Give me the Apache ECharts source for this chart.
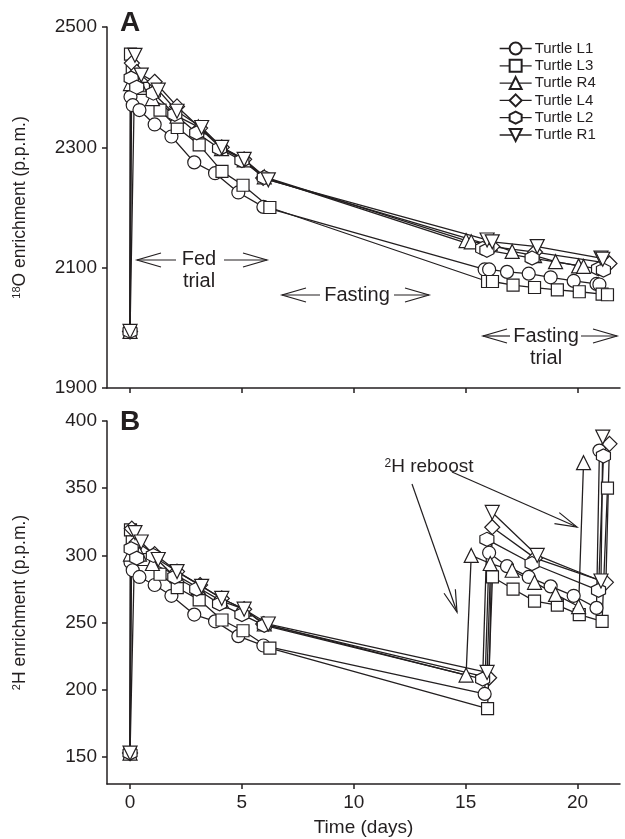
<!DOCTYPE html>
<html lang="en">
<head>
<meta charset="UTF-8">
<title>Turtle isotope enrichment</title>
<script src="https://cdn.jsdelivr.net/npm/echarts@6/dist/echarts.min.js"></script>
<style>
    html, body { margin: 0; padding: 0; background: #fff; }
    #chart { width: 625px; height: 839px; }
</style>
</head>
<body>
<div id="chart"></div>
<script>
// sampling days and values for each turtle (panel A = 18O, panel B = 2H)
var dayL1 = [0, 0.02, 0.12, 0.42, 1.1, 1.85, 2.87, 3.8, 4.84, 5.96, 15.85, 16.05, 16.85, 17.82, 18.8, 19.83, 20.85, 20.98];
var o18L1 = [1994, 2384, 2370, 2362, 2338, 2318, 2275, 2257, 2225, 2201, 2097, 2097, 2093, 2090, 2084, 2078, 2073, 2072];
var h2L1 = [153, 295, 289, 284, 278, 270, 256, 251, 240, 233, 197, 302, 292, 284, 277, 270, 261, 378];

var dayL3 = [0, 0.02, 0.1, 0.6, 1.34, 2.11, 3.09, 4.11, 5.05, 6.25, 15.98, 16.2, 17.12, 18.08, 19.1, 20.08, 21.1, 21.34];
var o18L3 = [1994, 2455, 2426, 2398, 2362, 2333, 2304, 2260, 2237, 2200, 2077, 2077, 2071, 2067, 2063, 2060, 2056, 2055];
var h2L3 = [153, 319, 310, 297, 286, 276, 267, 252, 244, 231, 186, 284, 275, 266, 263, 256, 251, 350];

var dayR4 = [0, 0.02, 0.42, 1.0, 2.1, 3.05, 4.09, 5.1, 6.0, 15.02, 15.25, 16.1, 17.08, 18.08, 19.02, 20.05, 20.27];
var o18R4 = [1994, 2406, 2404, 2381, 2352, 2334, 2298, 2279, 2251, 2145, 2143, 2140, 2127, 2120, 2110, 2103, 2102];
var h2R4 = [153, 301, 301, 294, 285, 276, 266, 260, 249, 211, 300, 294, 289, 280, 271, 262, 369];

var dayL4 = [0, 0.08, 0.3, 1.1, 2.1, 3.13, 4.1, 5.1, 5.95, 16.05, 16.19, 18.1, 21.27, 21.43];
var o18L4 = [1994, 2440, 2425, 2409, 2368, 2332, 2300, 2280, 2249, 2138, 2135, 2126, 2108, 2107];
var h2L4 = [153, 320, 310, 301, 288, 278, 268, 260, 249, 209, 321, 298, 280, 383];

var dayL2 = [0, 0.05, 0.3, 1.04, 2.0, 2.98, 4.0, 5.0, 6.0, 15.76, 15.95, 17.97, 20.94, 21.16];
var o18L2 = [1994, 2415, 2400, 2390, 2355, 2324, 2298, 2278, 2250, 2132, 2129, 2116, 2098, 2096];
var h2L2 = [153, 305, 298, 300, 284, 275, 264, 256, 248, 208, 312, 294, 274, 374];

var dayR1 = [0, 0.22, 0.5, 1.26, 2.1, 3.2, 4.1, 5.1, 6.18, 15.96, 16.19, 18.2, 21.05, 21.13];
var o18R1 = [1994, 2453, 2420, 2395, 2360, 2333, 2300, 2280, 2246, 2146, 2143, 2135, 2116, 2114];
var h2R1 = [153, 317, 310, 297, 288, 277, 268, 260, 249, 213, 332, 300, 281, 388];

var dayTicks = [0, 5, 10, 15, 20];
var o18Ticks = [1900, 2100, 2300, 2500];
var h2Ticks = [150, 200, 250, 300, 350, 400];

var INK = '#231f20';
var FONT = '"Liberation Sans", Arial, Helvetica, sans-serif';
var HEX = 'path://M0,-1 L0.866,-0.5 L0.866,0.5 L0,1 L-0.866,0.5 L-0.866,-0.5 Z';

var turtles = [
    {name: 'Turtle L1', days: dayL1, o18: o18L1, h2: h2L1, symbol: 'circle', size: 13, rotate: 0},
    {name: 'Turtle L3', days: dayL3, o18: o18L3, h2: h2L3, symbol: 'rect', size: 12, rotate: 0},
    {name: 'Turtle R4', days: dayR4, o18: o18R4, h2: h2R4, symbol: 'triangle', size: 14, rotate: 0},
    {name: 'Turtle L4', days: dayL4, o18: o18L4, h2: h2L4, symbol: 'diamond', size: 15, rotate: 0},
    {name: 'Turtle L2', days: dayL2, o18: o18L2, h2: h2L2, symbol: HEX, size: 14, rotate: 0},
    {name: 'Turtle R1', days: dayR1, o18: o18R1, h2: h2R1, symbol: 'triangle', size: 14, rotate: 180}
];

function pairs(days, vals) {
    var out = [];
    for (var i = 0; i < days.length; i++) out.push([days[i], vals[i]]);
    return out;
}

var series = [];
turtles.forEach(function (t) {
    [0, 1].forEach(function (k) {
        series.push({
            name: t.name,
            type: 'line',
            xAxisIndex: k,
            yAxisIndex: k,
            data: pairs(t.days, k === 0 ? t.o18 : t.h2),
            symbol: t.symbol,
            symbolSize: t.size,
            symbolRotate: t.rotate,
            showAllSymbol: true,
            animation: false,
            lineStyle: {color: INK, width: 1.3},
            itemStyle: {color: '#fff', borderColor: INK, borderWidth: 1.2}
        });
    });
});

function plain(v) { return String(v); }

function xAxisCfg(idx, showLabels) {
    return {
        type: 'value', gridIndex: idx, min: -1.03, max: 21.9,
        axisLine: {onZero: false, lineStyle: {color: INK, width: 1.5}},
        axisTick: {customValues: dayTicks, length: 5, lineStyle: {color: INK, width: 1.5}},
        axisLabel: {show: showLabels, customValues: dayTicks, formatter: plain, fontSize: 19, color: INK, fontFamily: FONT, margin: 9},
        splitLine: {show: false},
        name: showLabels ? 'Time (days)' : '',
        nameLocation: 'middle', nameGap: 34,
        nameTextStyle: {fontSize: 19, color: INK, fontFamily: FONT}
    };
}

function yAxisCfg(idx, min, max, ticks, label) {
    return {
        type: 'value', gridIndex: idx, min: min, max: max,
        axisLine: {show: true, onZero: false, lineStyle: {color: INK, width: 1.5}},
        axisTick: {show: true, customValues: ticks, length: 5, lineStyle: {color: INK, width: 1.5}},
        axisLabel: {customValues: ticks, formatter: plain, fontSize: 19, color: INK, fontFamily: FONT, margin: 10},
        splitLine: {show: false},
        name: label, nameLocation: 'middle', nameRotate: 90, nameGap: 78,
        nameTextStyle: {
            fontSize: 17.5, color: INK, fontFamily: FONT,
            rich: {sup: {fontSize: 11, verticalAlign: 'top', color: INK, fontFamily: FONT}}
        }
    };
}

function arrow(x1, y1, x2, y2, len, half) {
    // open chevron arrow from (x1,y1) to tip (x2,y2)
    var dx = x2 - x1, dy = y2 - y1;
    var d = Math.sqrt(dx * dx + dy * dy);
    var ux = dx / d, uy = dy / d;
    var bx = x2 - ux * len, by = y2 - uy * len;
    return {
        type: 'group',
        children: [
            {type: 'line', shape: {x1: x1, y1: y1, x2: x2, y2: y2}, style: {stroke: INK, lineWidth: 1.2}},
            {type: 'polyline', shape: {points: [[bx - uy * half, by + ux * half], [x2, y2], [bx + uy * half, by - ux * half]]},
                style: {stroke: INK, lineWidth: 1.2, fill: null}}
        ]
    };
}

function label(text, x, y, size, bold) {
    return {
        type: 'text', x: x, y: y,
        style: {
            text: text, fill: INK, font: (bold ? 'bold ' : '') + size + 'px ' + FONT,
            align: 'center', verticalAlign: 'middle',
            rich: {sup: {fontSize: 12, verticalAlign: 'top', fill: INK, fontFamily: FONT}}
        }
    };
}

var chart = echarts.init(document.getElementById('chart'), null, {renderer: 'canvas'});
chart.setOption({
    backgroundColor: '#fff',
    animation: false,
    textStyle: {fontFamily: FONT},
    grid: [
        {left: 107, top: 27, width: 513, height: 361},
        {left: 107, top: 421, width: 513, height: 363}
    ],
    xAxis: [xAxisCfg(0, false), xAxisCfg(1, true)],
    yAxis: [
        yAxisCfg(0, 1900, 2500, o18Ticks, '{sup|18}O enrichment (p.p.m.)'),
        yAxisCfg(1, 130, 400, h2Ticks, '{sup|2}H enrichment (p.p.m.)')
    ],
    legend: {
        orient: 'vertical', left: 494, top: 36,
        itemWidth: 32, itemHeight: 15, itemGap: 2.3,
        data: turtles.map(function (t) { return t.name; }),
        lineStyle: {width: 1.3},
        textStyle: {fontSize: 15, lineHeight: 15, color: INK, fontFamily: FONT, padding: [0, 0, 0, -2]}
    },
    series: series,
    graphic: [
        label('A', 130, 23, 28, true),
        label('B', 130, 422, 28, true),
        label('Fed', 199, 259, 20),
        label('trial', 199, 281, 20),
        arrow(176, 260, 137, 260, 24, 7),
        arrow(224, 260, 267, 260, 24, 7),
        label('Fasting', 357, 295, 20),
        arrow(320, 295, 282, 295, 24, 7),
        arrow(394, 295, 429, 295, 24, 7),
        label('Fasting', 546, 336, 20),
        label('trial', 546, 358, 20),
        arrow(510, 336, 483, 336, 24, 7),
        arrow(581, 336, 617, 336, 24, 7),
        label('{sup|2}H reboost', 429, 467, 19),
        arrow(412, 484, 457, 612, 22, 6),
        arrow(452, 472, 577, 527, 22, 6)
    ]
});
</script>
</body>
</html>
